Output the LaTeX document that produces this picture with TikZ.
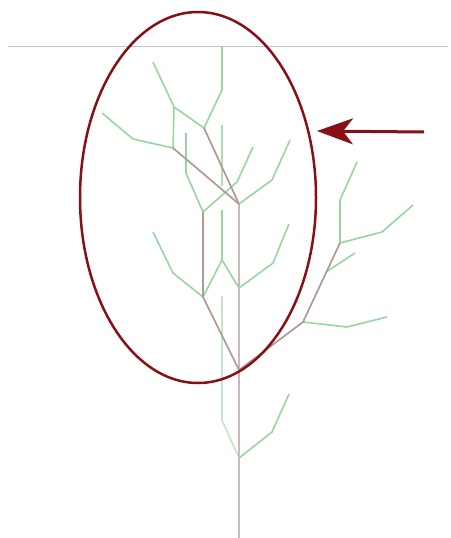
\documentclass[tikz,border=0pt]{standalone}
\usetikzlibrary{arrows.meta}
\definecolor{grn}{RGB}{150,214,160}
\definecolor{brn}{RGB}{176,154,150}
\definecolor{trk}{RGB}{200,186,186}
\definecolor{dred}{RGB}{135,16,22}
\definecolor{hline}{RGB}{196,196,196}
\tikzset{
  greenbranch/.style={draw=grn, line width=1.6pt, line join=round},
  brownbranch/.style={draw=brn, line width=1.7pt, line join=round},
  trunkline/.style={draw=trk, line width=2pt},
  marker/.style={draw=dred, line width=2.5pt},
  pointer/.style={draw=dred, fill=dred, line width=3pt, -{Stealth[length=36pt,width=26pt,inset=10pt]}}
}
\begin{document}
\begin{tikzpicture}[x=1pt,y=-1pt]
\useasboundingbox (0,0) rectangle (450,538);
% reference line
\coordinate (L1) at (8,46);
\coordinate (L2) at (448,46);
\draw[hline, line width=1pt] (L1) -- (L2);
% main points
\coordinate (T0) at (239,538);
\coordinate (A) at (239,204);
\coordinate (B) at (204,128);
\coordinate (C) at (173,148);
\coordinate (F) at (174,107);
\coordinate (D) at (203,212);
\coordinate (E) at (203,297);
\coordinate (G) at (239,288);
\coordinate (J1) at (239,370);
\coordinate (J2) at (239,458);
\coordinate (K) at (303,322);
\coordinate (H) at (340,243);
\coordinate (M) at (326,272);
\coordinate (P1) at (222,260);
% green branches
\draw[greenbranch] (B) -- (222,90) -- (222,46);
\draw[greenbranch] (B) -- (F) -- (153,62);
\draw[greenbranch] (F) -- (C);
\draw[greenbranch] (C) -- (133,139) -- (102,113);
\draw[greenbranch] (D) -- (186,173) -- (186,133);
\draw[greenbranch] (D) -- (237,182) -- (253,147);
\draw[greenbranch] (A) -- (272,180) -- (290,140);
\draw[greenbranch, draw opacity=0.8] (222,125) -- (222,186);
\draw[greenbranch] (E) -- (173,273) -- (153,232);
\draw[greenbranch] (E) -- (P1) -- (222,210);
\draw[greenbranch] (P1) -- (G);
\draw[greenbranch] (G) -- (273,263) -- (289,224);
\draw[greenbranch, draw opacity=0.6] (222,296) -- (222,420) -- (J2);
\draw[greenbranch] (J2) -- (272,432) -- (289,394);
\draw[greenbranch] (H) -- (340,200) -- (357,162);
\draw[greenbranch] (H) -- (382,232) -- (413,205);
\draw[greenbranch] (M) -- (355,253);
\draw[greenbranch] (K) -- (347,327) -- (387,317);
% trunk and older branches
\draw[trunkline] (T0) -- (A);
\draw[brownbranch] (A) -- (B);
\draw[brownbranch] (A) -- (C);
\draw[brownbranch] (D) -- (E) -- (J1);
\draw[brownbranch] (J1) -- (K) -- (H);
% highlight ellipse and arrow
\coordinate (O) at (198,197.5);
\draw[marker] (O) ellipse [x radius=118, y radius=185.5];
\coordinate (AR1) at (424,132);
\coordinate (AR2) at (317,131);
\draw[pointer] (AR1) -- (AR2);
\end{tikzpicture}
\end{document}
